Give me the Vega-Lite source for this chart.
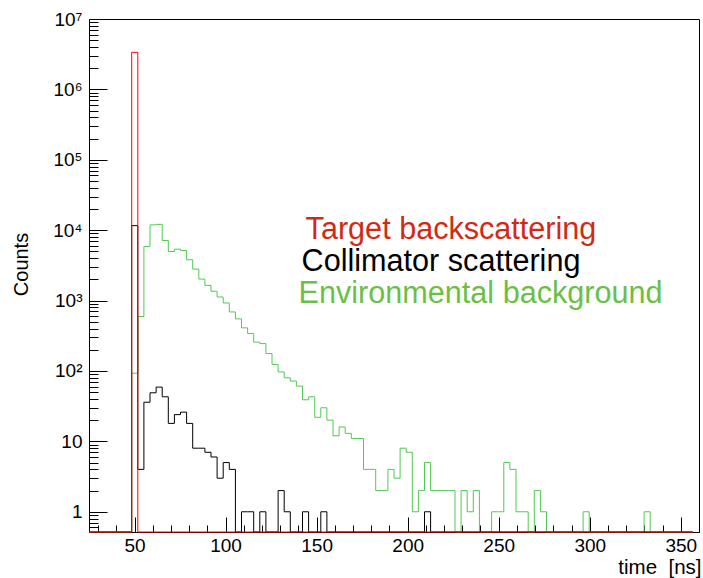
{
  "$schema": "https://vega.github.io/schema/vega-lite/v6.json",
  "width": 610,
  "height": 513,
  "autosize": {"type": "none"},
  "padding": {"left": 89, "top": 19, "right": 4, "bottom": 46},
  "background": "white",
  "config": {
    "view": {"stroke": "black", "strokeWidth": 1},
    "font": "Liberation Sans",
    "axis": {
      "grid": false,
      "domainColor": "black",
      "domainWidth": 1,
      "tickColor": "black",
      "tickWidth": 1,
      "labelColor": "black",
      "titleColor": "black",
      "labelFont": "Liberation Sans",
      "titleFont": "Liberation Sans",
      "titleFontWeight": "normal",
      "labelOverlap": false,
      "labelFlush": false
    }
  },
  "data": {
    "values": [
      {"t": 25, "target": 0, "collimator": 0, "environmental": 0},
      {"t": 28.35, "target": 0, "collimator": 0, "environmental": 0},
      {"t": 31.7, "target": 0, "collimator": 0, "environmental": 0},
      {"t": 35.05, "target": 0, "collimator": 0, "environmental": 0},
      {"t": 38.4, "target": 0, "collimator": 0, "environmental": 0},
      {"t": 41.75, "target": 0, "collimator": 0, "environmental": 0},
      {"t": 45.1, "target": 0, "collimator": 0, "environmental": 0},
      {"t": 48.45, "target": 3360000, "collimator": 11600, "environmental": 93},
      {"t": 51.8, "target": 0, "collimator": 4, "environmental": 594},
      {"t": 55.15, "target": 0, "collimator": 36, "environmental": 5870},
      {"t": 58.5, "target": 0, "collimator": 49, "environmental": 11900},
      {"t": 61.85, "target": 0, "collimator": 59, "environmental": 12100},
      {"t": 65.2, "target": 0, "collimator": 43, "environmental": 7130},
      {"t": 68.55, "target": 0, "collimator": 18, "environmental": 4980},
      {"t": 71.9, "target": 0, "collimator": 24, "environmental": 5370},
      {"t": 75.25, "target": 0, "collimator": 26, "environmental": 5140},
      {"t": 78.6, "target": 0, "collimator": 18, "environmental": 3800},
      {"t": 81.95, "target": 0, "collimator": 8, "environmental": 2800},
      {"t": 85.3, "target": 0, "collimator": 8, "environmental": 2020},
      {"t": 88.65, "target": 0, "collimator": 7, "environmental": 1645},
      {"t": 92, "target": 0, "collimator": 6, "environmental": 1355},
      {"t": 95.35, "target": 0, "collimator": 3, "environmental": 1125},
      {"t": 98.7, "target": 0, "collimator": 5, "environmental": 925},
      {"t": 102.05, "target": 0, "collimator": 4, "environmental": 690},
      {"t": 105.4, "target": 0, "collimator": 0, "environmental": 550},
      {"t": 108.75, "target": 0, "collimator": 1, "environmental": 410},
      {"t": 112.1, "target": 0, "collimator": 1, "environmental": 340},
      {"t": 115.45, "target": 0, "collimator": 0, "environmental": 257},
      {"t": 118.8, "target": 0, "collimator": 1, "environmental": 245},
      {"t": 122.15, "target": 0, "collimator": 0, "environmental": 177},
      {"t": 125.5, "target": 0, "collimator": 0, "environmental": 124},
      {"t": 128.85, "target": 0, "collimator": 2, "environmental": 97},
      {"t": 132.2, "target": 0, "collimator": 1, "environmental": 80},
      {"t": 135.55, "target": 0, "collimator": 0, "environmental": 72},
      {"t": 138.9, "target": 0, "collimator": 0, "environmental": 61},
      {"t": 142.25, "target": 0, "collimator": 1, "environmental": 39},
      {"t": 145.6, "target": 0, "collimator": 0, "environmental": 43},
      {"t": 148.95, "target": 0, "collimator": 0, "environmental": 22},
      {"t": 152.3, "target": 0, "collimator": 1, "environmental": 30},
      {"t": 155.65, "target": 0, "collimator": 0, "environmental": 20},
      {"t": 159, "target": 0, "collimator": 0, "environmental": 12},
      {"t": 162.35, "target": 0, "collimator": 0, "environmental": 16},
      {"t": 165.7, "target": 0, "collimator": 0, "environmental": 13},
      {"t": 169.05, "target": 0, "collimator": 0, "environmental": 11},
      {"t": 172.4, "target": 0, "collimator": 0, "environmental": 11},
      {"t": 175.75, "target": 0, "collimator": 0, "environmental": 4},
      {"t": 179.1, "target": 0, "collimator": 0, "environmental": 4},
      {"t": 182.45, "target": 0, "collimator": 0, "environmental": 2},
      {"t": 185.8, "target": 0, "collimator": 0, "environmental": 2},
      {"t": 189.15, "target": 0, "collimator": 0, "environmental": 4},
      {"t": 192.5, "target": 0, "collimator": 0, "environmental": 3},
      {"t": 195.85, "target": 0, "collimator": 0, "environmental": 8},
      {"t": 199.2, "target": 0, "collimator": 0, "environmental": 7},
      {"t": 202.55, "target": 0, "collimator": 0, "environmental": 1},
      {"t": 205.9, "target": 0, "collimator": 0, "environmental": 2},
      {"t": 209.25, "target": 0, "collimator": 1, "environmental": 5},
      {"t": 212.6, "target": 0, "collimator": 0, "environmental": 2},
      {"t": 215.95, "target": 0, "collimator": 0, "environmental": 2},
      {"t": 219.3, "target": 0, "collimator": 0, "environmental": 2},
      {"t": 222.65, "target": 0, "collimator": 0, "environmental": 2},
      {"t": 226, "target": 0, "collimator": 0, "environmental": 0},
      {"t": 229.35, "target": 0, "collimator": 0, "environmental": 2},
      {"t": 232.7, "target": 0, "collimator": 0, "environmental": 1},
      {"t": 236.05, "target": 0, "collimator": 0, "environmental": 2},
      {"t": 239.4, "target": 0, "collimator": 0, "environmental": 0},
      {"t": 242.75, "target": 0, "collimator": 0, "environmental": 0},
      {"t": 246.1, "target": 0, "collimator": 0, "environmental": 1},
      {"t": 249.45, "target": 0, "collimator": 0, "environmental": 1},
      {"t": 252.8, "target": 0, "collimator": 0, "environmental": 5},
      {"t": 256.15, "target": 0, "collimator": 0, "environmental": 4},
      {"t": 259.5, "target": 0, "collimator": 0, "environmental": 1},
      {"t": 262.85, "target": 0, "collimator": 0, "environmental": 1},
      {"t": 266.2, "target": 0, "collimator": 0, "environmental": 0},
      {"t": 269.55, "target": 0, "collimator": 0, "environmental": 2},
      {"t": 272.9, "target": 0, "collimator": 0, "environmental": 1},
      {"t": 276.25, "target": 0, "collimator": 0, "environmental": 0},
      {"t": 279.6, "target": 0, "collimator": 0, "environmental": 0},
      {"t": 282.95, "target": 0, "collimator": 0, "environmental": 0},
      {"t": 286.3, "target": 0, "collimator": 0, "environmental": 0},
      {"t": 289.65, "target": 0, "collimator": 0, "environmental": 0},
      {"t": 293, "target": 0, "collimator": 0, "environmental": 0},
      {"t": 296.35, "target": 0, "collimator": 0, "environmental": 1},
      {"t": 299.7, "target": 0, "collimator": 0, "environmental": 0},
      {"t": 303.05, "target": 0, "collimator": 0, "environmental": 0},
      {"t": 306.4, "target": 0, "collimator": 0, "environmental": 0},
      {"t": 309.75, "target": 0, "collimator": 0, "environmental": 0},
      {"t": 313.1, "target": 0, "collimator": 0, "environmental": 0},
      {"t": 316.45, "target": 0, "collimator": 0, "environmental": 0},
      {"t": 319.8, "target": 0, "collimator": 0, "environmental": 0},
      {"t": 323.15, "target": 0, "collimator": 0, "environmental": 0},
      {"t": 326.5, "target": 0, "collimator": 0, "environmental": 0},
      {"t": 329.85, "target": 0, "collimator": 0, "environmental": 1},
      {"t": 333.2, "target": 0, "collimator": 0, "environmental": 0},
      {"t": 336.55, "target": 0, "collimator": 0, "environmental": 0},
      {"t": 339.9, "target": 0, "collimator": 0, "environmental": 0},
      {"t": 343.25, "target": 0, "collimator": 0, "environmental": 0},
      {"t": 346.6, "target": 0, "collimator": 0, "environmental": 0},
      {"t": 349.95, "target": 0, "collimator": 0, "environmental": 0},
      {"t": 353.3, "target": 0, "collimator": 0, "environmental": 0},
      {"t": 356.65, "target": 0, "collimator": 0, "environmental": 0}
    ]
  },
  "transform": [
    {"fold": ["environmental", "collimator", "target"], "as": ["source", "counts"]}
  ],
  "mark": {"type": "line", "interpolate": "step-after", "strokeWidth": 1},
  "encoding": {
    "x": {
      "field": "t",
      "type": "quantitative",
      "scale": {"domain": [25, 360], "nice": false, "zero": false},
      "axis": {
        "values": [30, 40, 50, 60, 70, 80, 90, 100, 110, 120, 130, 140, 150, 160, 170, 180, 190, 200, 210, 220, 230, 240, 250, 260, 270, 280, 290, 300, 310, 320, 330, 340, 350, 360],
        "format": "d",
        "labelExpr": "datum.value % 50 == 0 ? datum.label : ''",
        "tickSize": {"condition": {"test": "datum.value % 50 == 0", "value": -15}, "value": -7},
        "labelPadding": 19,
        "labelFontSize": 19,
        "title": "time\u00a0\u00a0[ns]",
        "titleFontSize": 20.5,
        "titleAlign": "right",
        "titleAnchor": "end",
        "titleBaseline": "alphabetic",
        "titleX": 612,
        "titleY": 41
      }
    },
    "y": {
      "field": "counts",
      "type": "quantitative",
      "scale": {"type": "log", "domain": [0.516, 10000000], "nice": false, "clamp": true},
      "axis": {
        "values": [0.6, 0.7, 0.8, 0.9, 1, 2, 3, 4, 5, 6, 7, 8, 9, 10, 20, 30, 40, 50, 60, 70, 80, 90, 100, 200, 300, 400, 500, 600, 700, 800, 900, 1000, 2000, 3000, 4000, 5000, 6000, 7000, 8000, 9000, 10000, 20000, 30000, 40000, 50000, 60000, 70000, 80000, 90000, 100000, 200000, 300000, 400000, 500000, 600000, 700000, 800000, 900000, 1000000, 2000000, 3000000, 4000000, 5000000, 6000000, 7000000, 8000000, 9000000, 10000000],
        "labelExpr": "datum.value == 1 ? '1' : datum.value == 10 ? '10' : datum.value == 100 ? '10²' : datum.value == 1000 ? '10³' : datum.value == 10000 ? '10⁴' : datum.value == 100000 ? '10⁵' : datum.value == 1000000 ? '10⁶' : datum.value == 10000000 ? '10⁷' : ''",
        "tickSize": {"condition": {"test": "indexof([1, 10, 100, 1000, 10000, 100000, 1000000, 10000000], datum.value) >= 0", "value": -18}, "value": -9},
        "labelPadding": 25,
        "labelFontSize": 19,
        "title": "Counts",
        "titleFontSize": 20,
        "titleX": -68,
        "titleY": 245,
        "titleAlign": "center",
        "titleBaseline": "middle",
        "titleAngle": -90
      }
    },
    "color": {
      "field": "source",
      "type": "nominal",
      "scale": {"domain": ["target", "collimator", "environmental"], "range": ["#ff0000", "#000000", "#52c952"]},
      "legend": {
        "orient": "none",
        "legendX": 179,
        "legendY": 196,
        "title": null,
        "padding": 0,
        "symbolSize": 0,
        "symbolStrokeWidth": 0,
        "symbolOpacity": 0,
        "labelOffset": 0,
        "labelFont": "Liberation Sans",
        "labelFontSize": 30.6,
        "labelLimit": 700,
        "rowPadding": 1,
        "labelExpr": "datum.value == 'target' ? 'Target backscattering' : datum.value == 'collimator' ? 'Collimator scattering' : 'Environmental background'",
        "encode": {
          "labels": {
            "update": {
              "fill": {"signal": "datum.value == 'target' ? '#d12a14' : datum.value == 'collimator' ? '#000000' : '#6cbf45'"},
              "dx": {"signal": "datum.value == 'target' ? 7 : datum.value == 'collimator' ? 3 : 0"}
            }
          }
        }
      }
    }
  }
}
